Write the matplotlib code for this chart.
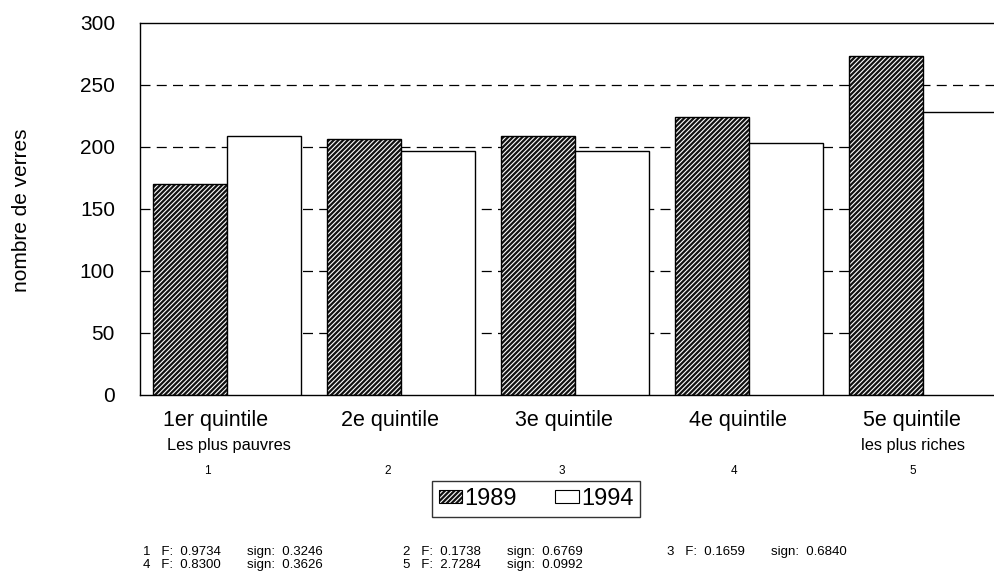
import numpy as np
import matplotlib
matplotlib.use('Agg')
import matplotlib.pyplot as plt
import matplotlib.transforms as mtransforms
from matplotlib.patches import Patch

plt.rcParams['font.family'] = ['Liberation Sans', 'DejaVu Sans']
plt.rcParams['hatch.linewidth'] = 0.8

# data
quintiles = ['1er quintile', '2e quintile', '3e quintile', '4e quintile', '5e quintile']
subtitles = ['Les plus pauvres', '', '', '', 'les plus riches']
numbers = ['1', '2', '3', '4', '5']
years = ['1989', '1994']
values_1989 = [170.5, 206.5, 208.5, 224.5, 273.5]
values_1994 = [208.5, 197, 197, 203.5, 228.5]
stat_f = [0.9734, 0.1738, 0.1659, 0.8300, 2.7284]
stat_sign = [0.3246, 0.6769, 0.6840, 0.3626, 0.0992]

fig = plt.figure(figsize=(9.95, 5.78), dpi=100)
W, H = 995.0, 578.0
ax = fig.add_axes([140 / W, 1 - 395 / H, 870 / W, 372 / H])

x = np.arange(len(quintiles))
bw = 0.425

# hatched 1989 bars: dark fill with white diagonal lines, black outline
ax.bar(x - bw / 2, values_1989, bw, color='#111111', edgecolor='white',
       hatch='///////', linewidth=0, zorder=2)
ax.bar(x - bw / 2, values_1989, bw, fill=False, edgecolor='black',
       linewidth=1.0, zorder=3)
ax.bar(x + bw / 2, values_1994, bw, color='white', edgecolor='black',
       linewidth=1.0, zorder=3)

ax.set_xlim(-0.5, 4.5)
ax.set_ylim(0, 300)
ax.set_yticks(np.arange(0, 301, 50))
ax.tick_params(axis='y', length=0, pad=18, labelsize=15)
ax.set_xticks([])
for y in range(50, 300, 50):
    ax.axhline(y, color='black', linestyle=(0, (8, 5)), linewidth=0.9, zorder=1)
ax.spines['right'].set_visible(False)
for s in ['left', 'top', 'bottom']:
    ax.spines[s].set_linewidth(1.0)

fig.text(22 / W, 1 - 210 / H, 'nombre de verres', rotation=90,
         ha='center', va='center', fontsize=15)

trans = mtransforms.blended_transform_factory(ax.transData, fig.transFigure)
lab_off = -0.063
sub_off = [0.011, 0, 0, 0, -0.057]
num_off = [-0.115, -0.075, -0.075, -0.086, -0.057]
for i in range(len(quintiles)):
    ax.text(i + lab_off, 1 - 426 / H, quintiles[i], transform=trans,
            ha='center', va='baseline', fontsize=15.5)
    if subtitles[i]:
        ax.text(i + sub_off[i], 1 - 450 / H, subtitles[i], transform=trans,
                ha='center', va='baseline', fontsize=11.8)
    ax.text(i + num_off[i], 1 - 474 / H, numbers[i], transform=trans,
            ha='center', va='baseline', fontsize=8.5)

h1 = (Patch(facecolor='#111111', edgecolor='white', hatch='///////', linewidth=0),
      Patch(fill=False, edgecolor='black', linewidth=0.8))
h2 = Patch(facecolor='white', edgecolor='black', linewidth=0.8)
leg = fig.legend([h1, h2], years, loc='center', bbox_to_anchor=(536 / W, 1 - 499 / H),
                 ncol=2, fontsize=17, frameon=True, fancybox=False, edgecolor='black',
                 handlelength=1.0, handleheight=0.45, handletextpad=0.1,
                 columnspacing=1.6, borderpad=0.3, borderaxespad=0)
leg.get_frame().set_linewidth(1.0)

# F statistics under the chart
col_x = [143, 403, 667]
row_y = [555, 568]
for i in range(len(stat_f)):
    cx = col_x[i % 3]
    ry = row_y[i // 3]
    fig.text(cx / W, 1 - ry / H, '%s   F:  %.4f' % (numbers[i], stat_f[i]),
             ha='left', va='baseline', fontsize=9.5)
    fig.text((cx + 104) / W, 1 - ry / H, 'sign:  %.4f' % stat_sign[i],
             ha='left', va='baseline', fontsize=9.5)

fig.savefig('out.png', dpi=100)
